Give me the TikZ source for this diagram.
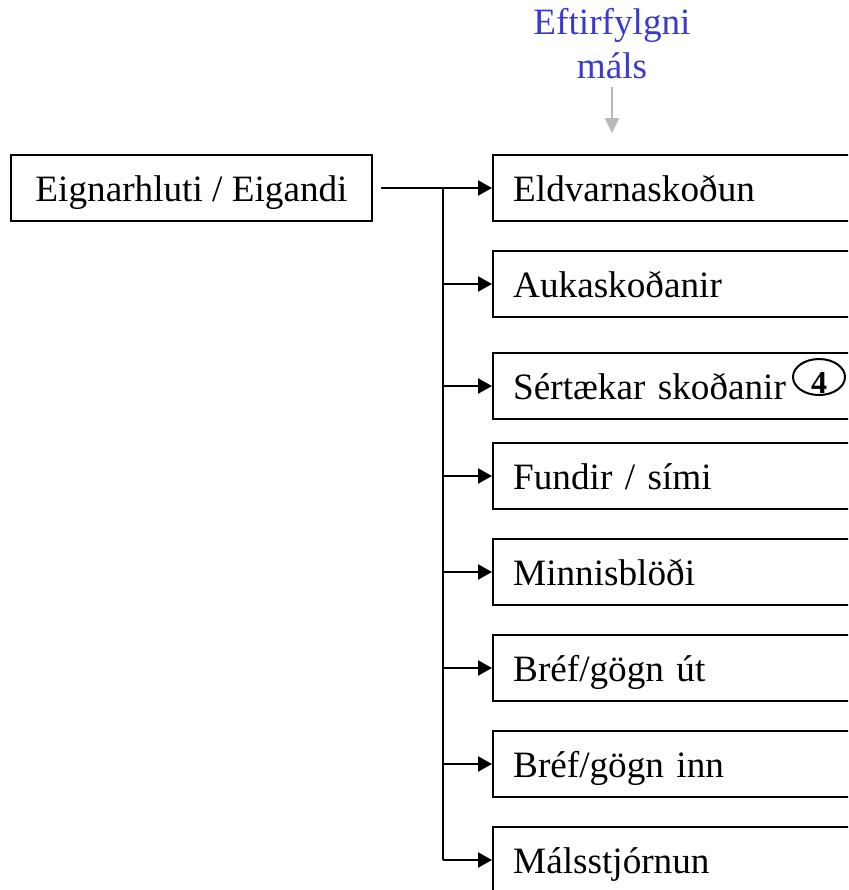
\documentclass[tikz,border=0pt]{standalone}
\usepackage{fontspec}
\setmainfont{Liberation Serif}
\usetikzlibrary{arrows.meta,shapes.geometric}
\definecolor{follow}{RGB}{58,58,208}
\begin{document}
\begin{tikzpicture}[x=0.5pt,y=-0.5pt]
      \newcommand{\boxfont}[0]{\fontsize{18.6}{22}\selectfont}
      \tikzstyle{dbox} = [draw=black,line width=1.2pt,minimum height=33pt,inner sep=0pt,text height=13pt,text depth=0pt,font=\boxfont]
      \tikzstyle{rbox} = [dbox,anchor=west,text width=180pt,inner xsep=10pt,align=left]
      \tikzstyle{dedge} = [line width=1.2pt,-{Triangle[length=7pt,width=7.5pt]},draw=black]
      \tikzstyle{gedge} = [line width=1.3pt,-{Triangle[length=7.5pt,width=7pt]},draw=gray!55]
      \useasboundingbox (0,0) rectangle (848,890);
      \clip (0,0) rectangle (848,890);
      \node[dbox,minimum width=180.5pt] (owner) at (191.5,188) {Eignarhluti / Eigandi};
      \foreach \name/\y/\txt in {b1/188/{Eldvarnaskoðun}, b2/284/{Aukaskoðanir}, b3/386/{Sértækar skoðanir},
          b4/476/{Fundir / sími}, b5/572/{Minnisblöði}, b6/668/{Bréf/gögn út}, b7/764/{Bréf/gögn inn}, b8/860/{Málsstjórnun}}
        \node[rbox] (\name) at (492,\y) {\txt};
      \node[ellipse,draw,line width=1pt,minimum width=26pt,minimum height=18pt,inner sep=0pt,font=\fontsize{16}{16}\selectfont\bfseries] (mark4) at (819,377) {\raisebox{-2.6pt}[10.8pt][0pt]{4}};
      \node[font=\boxfont,text=follow,align=center,inner sep=0pt,anchor=south] (follow) at (612,79) {Eftirfylgni\\máls};
      \draw[gedge] ([yshift=-4pt]follow.south) -- ++(0,46);
      \draw[dedge] ([xshift=4pt]owner.east) -- (b1.west);
      \coordinate (trunk) at (443,188);
      \draw[line width=1.2pt] (trunk) -- (trunk |- b8.west);
      \foreach \name in {b2,b3,b4,b5,b6,b7,b8}
        \draw[dedge] (trunk |- \name.west) -- (\name.west);
    \end{tikzpicture}
\end{document}
